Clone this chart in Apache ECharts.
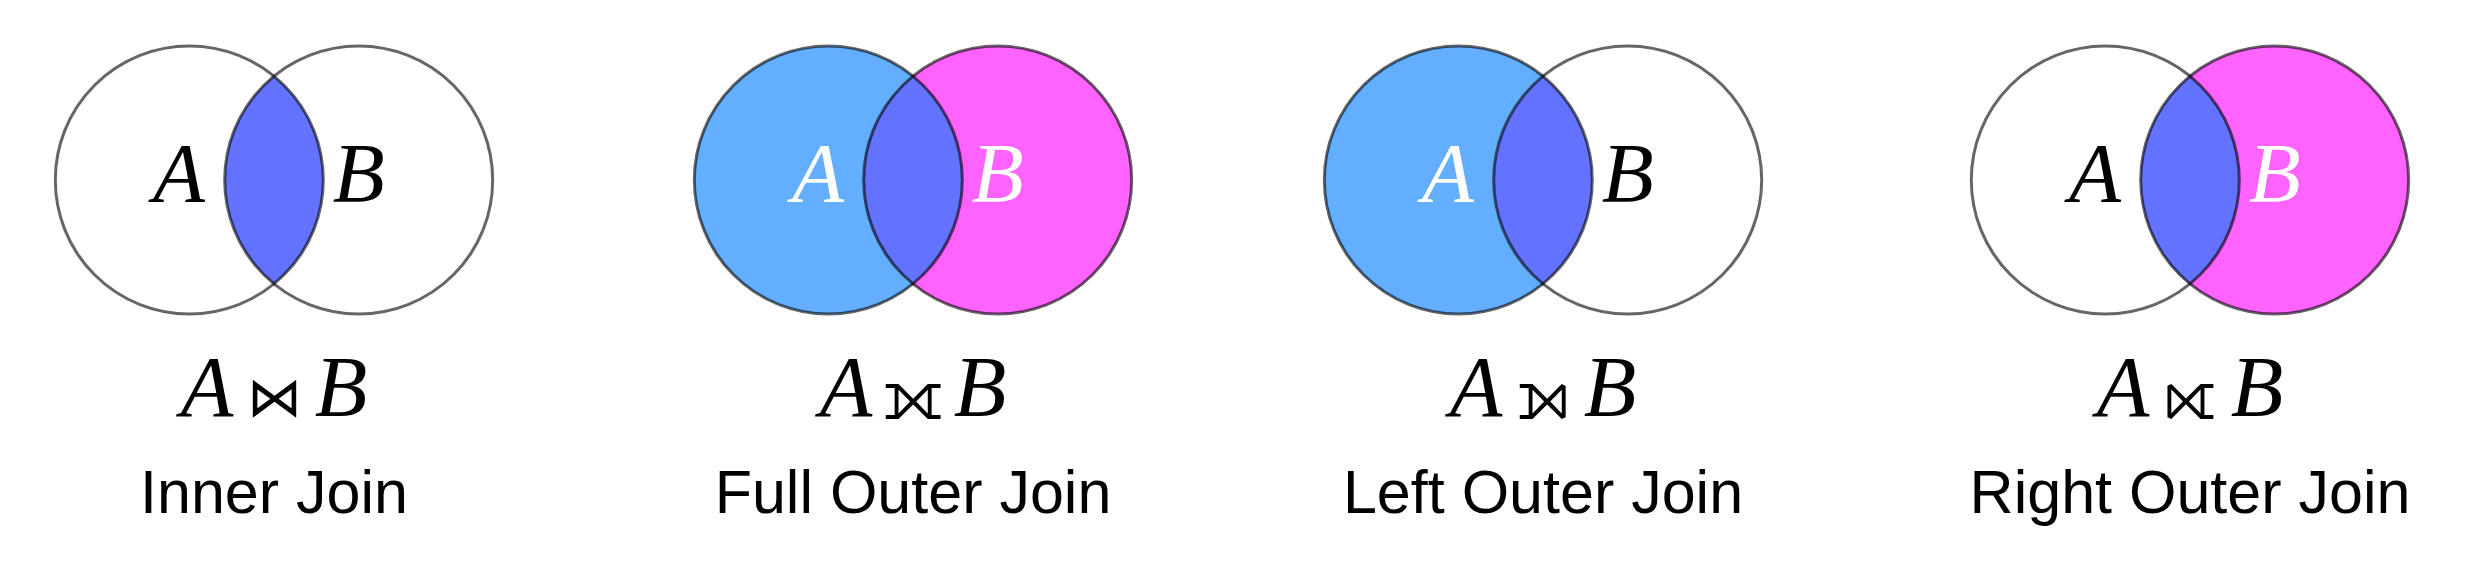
<!DOCTYPE html>
<html>
<head>
<meta charset="utf-8">
<script src="https://cdn.jsdelivr.net/npm/echarts@6/dist/echarts.min.js"></script>
<style>
  html, body { margin: 0; padding: 0; background: #fff; }
  #joins { width: 2468px; height: 572px; }
</style>
</head>
<body>
<div id="joins"></div>
<script>
    // which part of the venn is kept by each join
    var joinNames = ['Inner Join', 'Full Outer Join', 'Left Outer Join', 'Right Outer Join'];
    var joinSymbols = ['\u22C8', '\u27D7', '\u27D5', '\u27D6'];
    var setLabels = ['A', 'B'];
    var keepA = [0, 1, 1, 0];   // rows of A with no match
    var keepB = [0, 1, 0, 1];   // rows of B with no match
    var keepAB = [1, 1, 1, 1];  // matched rows

    // layout
    var panelCenters = [274, 913, 1543, 2190];
    var unit = 134;     // px for one circle radius
    var half = 0.632;   // half distance between the two centres, in radii
    var circleTop = 180;

    var colA = '#63aeff', colB = '#ff63ff', colAB = '#6373ff';
    var edge = 'rgba(0,0,0,0.6)';
    var mathFont = '"Liberation Serif", "DejaVu Serif", serif';

    function renderPanel(params, api) {
        var i = api.value(0);
        var pa = api.coord([-half, 0]);
        var pb = api.coord([half, 0]);
        var r = api.size([1, 1])[0];
        var mx = (pa[0] + pb[0]) / 2;
        var dh = (pb[0] - pa[0]) / 2;
        var h = Math.sqrt(r * r - dh * dh);
        var top = pa[1] - h, bot = pa[1] + h;
        var lens = 'M' + mx + ' ' + top +
            ' A' + r + ' ' + r + ' 0 0 0 ' + mx + ' ' + bot +
            ' A' + r + ' ' + r + ' 0 0 0 ' + mx + ' ' + top + ' Z';

        var la = api.coord([-0.71, 0]);
        var lb = api.coord([half, 0]);
        var fa = api.coord([-0.5, -1.593]);
        var fo = api.coord([0, -1.593]);
        var fb = api.coord([0.5, -1.593]);
        var nm = api.coord([0, -2.36]);

        // the plain bowtie is much heavier in DejaVu Sans, use a lighter face
        var opStyle = i === 0
            ? {fontFamily: '"DejaVu Sans ExtraLight", "DejaVu Serif", sans-serif', fontWeight: 200, fontSize: 55}
            : {fontFamily: '"DejaVu Sans", sans-serif', fontSize: 69};

        return {
            type: 'group',
            children: [
                {type: 'circle', shape: {cx: pa[0], cy: pa[1], r: r}, style: {fill: keepA[i] ? colA : '#fff'}},
                {type: 'circle', shape: {cx: pb[0], cy: pb[1], r: r}, style: {fill: keepB[i] ? colB : '#fff'}},
                {type: 'path', shape: {pathData: lens}, style: {fill: keepAB[i] ? colAB : '#fff'}},
                {type: 'circle', shape: {cx: pa[0], cy: pa[1], r: r}, style: {fill: 'none', stroke: edge, lineWidth: 3}},
                {type: 'circle', shape: {cx: pb[0], cy: pb[1], r: r}, style: {fill: 'none', stroke: edge, lineWidth: 3}},
                {type: 'text', style: {text: setLabels[0], x: la[0], y: la[1], fill: keepA[i] ? '#fff' : '#000',
                    fontFamily: mathFont, fontStyle: 'italic', fontSize: 85, align: 'center', verticalAlign: 'middle'}},
                {type: 'text', style: {text: setLabels[1], x: lb[0], y: lb[1], fill: keepB[i] ? '#fff' : '#000',
                    fontFamily: mathFont, fontStyle: 'italic', fontSize: 85, align: 'center', verticalAlign: 'middle'}},
                {type: 'text', style: {text: setLabels[0], x: fa[0], y: fa[1], fill: '#000',
                    fontFamily: mathFont, fontStyle: 'italic', fontSize: 86, align: 'center', verticalAlign: 'middle'}},
                {type: 'text', style: Object.assign({text: joinSymbols[i], x: fo[0], y: fo[1] + 8, fill: '#000',
                    align: 'center', verticalAlign: 'middle'}, opStyle)},
                {type: 'text', style: {text: setLabels[1], x: fb[0], y: fb[1], fill: '#000',
                    fontFamily: mathFont, fontStyle: 'italic', fontSize: 86, align: 'center', verticalAlign: 'middle'}},
                {type: 'text', style: {text: joinNames[i], x: nm[0], y: nm[1], fill: '#000',
                    fontFamily: '"Liberation Sans", Arial, sans-serif', fontSize: 61, align: 'center', verticalAlign: 'middle'}}
            ]
        };
    }

    var grids = [], xAxes = [], yAxes = [], series = [];
    for (var i = 0; i < joinNames.length; i++) {
        grids.push({left: panelCenters[i] - 1.7 * unit, top: circleTop - 1.3 * unit, width: 3.4 * unit, height: 4.1 * unit});
        xAxes.push({gridIndex: i, type: 'value', min: -1.7, max: 1.7, show: false});
        yAxes.push({gridIndex: i, type: 'value', min: -2.8, max: 1.3, show: false});
        series.push({
            name: joinNames[i],
            type: 'custom',
            xAxisIndex: i,
            yAxisIndex: i,
            clip: false,
            silent: true,
            renderItem: renderPanel,
            data: [[i]]
        });
    }

    var chart = echarts.init(document.getElementById('joins'));
    chart.setOption({
        backgroundColor: '#fff',
        animation: false,
        grid: grids,
        xAxis: xAxes,
        yAxis: yAxes,
        series: series
    });
</script>
</body>
</html>
